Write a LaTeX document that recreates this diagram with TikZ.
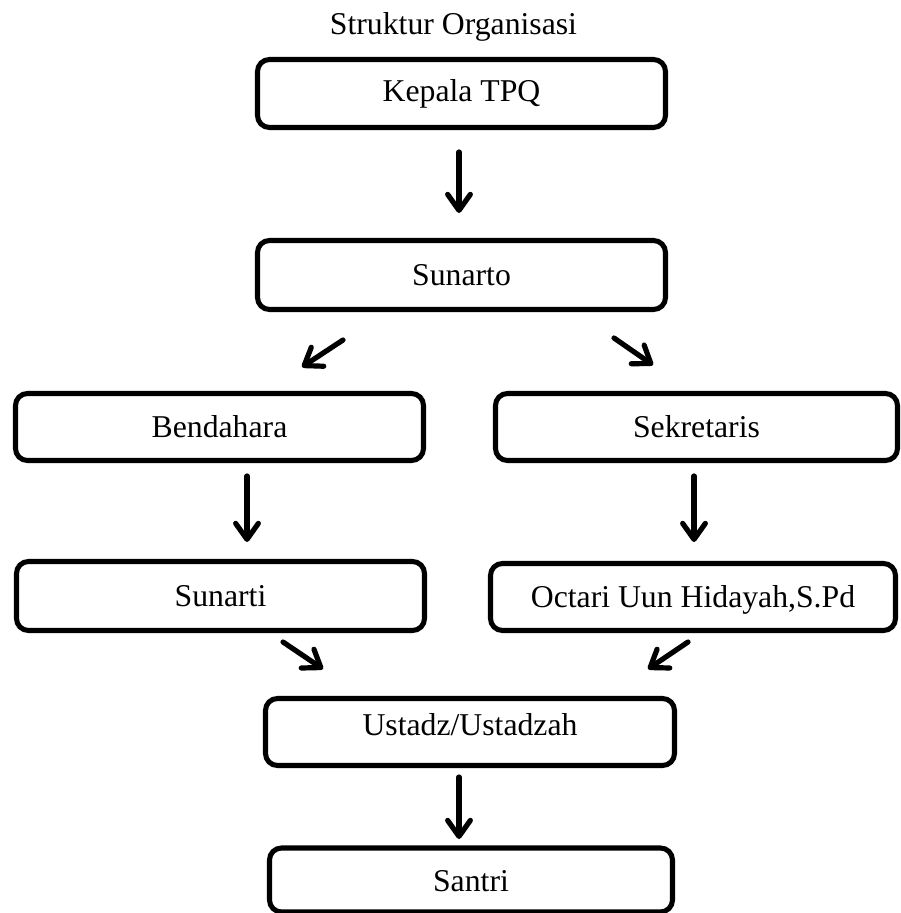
\documentclass[tikz,border=0pt]{standalone}
\usepackage{fontspec}
\setmainfont{Liberation Serif}
\usetikzlibrary{arrows.meta}
\begin{document}
\begin{tikzpicture}[x=0.75pt,y=-0.75pt,
  every node/.style={font=\fontsize{23.8}{28}\selectfont},
  orgbox/.style={draw, line width=3.8pt, rounded corners=9pt, inner sep=0pt,
    minimum width=306pt, minimum height=51pt, text depth=0pt, text height=15pt},
  arr/.style={line width=3.9pt, line cap=round,
    -{Straight Barb[length=12pt,width=17pt,line cap=round,line join=round]},
    preaction={draw=black!30, opacity=0.45, transform canvas={yshift=-1.6pt}}}
]
\useasboundingbox (0,0) rectangle (900,913);
\clip (0,0) rectangle (900,913);
\node[anchor=base] (title) at (453.5,35) {Struktur Organisasi};
\node[orgbox, text height=12.75pt] (kepala) at (461.5,93.5) {Kepala TPQ};
\node[orgbox, minimum height=51.75pt] (sunarto) at (461.5,275) {Sunarto};
\node[orgbox, minimum height=50.25pt] (bendahara) at (219.5,427) {Bendahara};
\node[orgbox, minimum width=301.5pt, minimum height=50.25pt] (sekretaris) at (696.5,427) {Sekretaris};
\node[orgbox, minimum height=51.75pt] (sunarti) at (220.5,596) {Sunarti};
\node[orgbox, minimum width=303.75pt, minimum height=50.25pt] (octari) at (693,597) {Octari Uun Hidayah,S.Pd};
\node[orgbox, minimum width=306.75pt, minimum height=50.25pt, text height=4.5pt] (ustadz) at (470,732) {Ustadz/Ustadzah};
\node[orgbox, minimum width=302.25pt, minimum height=48pt, text height=16.5pt] (santri) at (471,880) {Santri};
% arrow end points
\coordinate (a1s) at (459,152);  \coordinate (a1e) at (459,213);
\coordinate (a2s) at (343,340);  \coordinate (a2e) at (302,367);
\coordinate (a3s) at (614,338);  \coordinate (a3e) at (653,365);
\coordinate (a4s) at (247,476);  \coordinate (a4e) at (247,542);
\coordinate (a5s) at (694,476);  \coordinate (a5e) at (694,542);
\coordinate (a6s) at (283,642);  \coordinate (a6e) at (323,669);
\coordinate (a7s) at (688,642);  \coordinate (a7e) at (648,669);
\coordinate (a8s) at (459,777);  \coordinate (a8e) at (459,839);
\draw[arr] (a1s) -- (a1e);
\draw[arr] (a2s) -- (a2e);
\draw[arr] (a3s) -- (a3e);
\draw[arr] (a4s) -- (a4e);
\draw[arr] (a5s) -- (a5e);
\draw[arr] (a6s) -- (a6e);
\draw[arr] (a7s) -- (a7e);
\draw[arr] (a8s) -- (a8e);
\end{tikzpicture}
\end{document}
